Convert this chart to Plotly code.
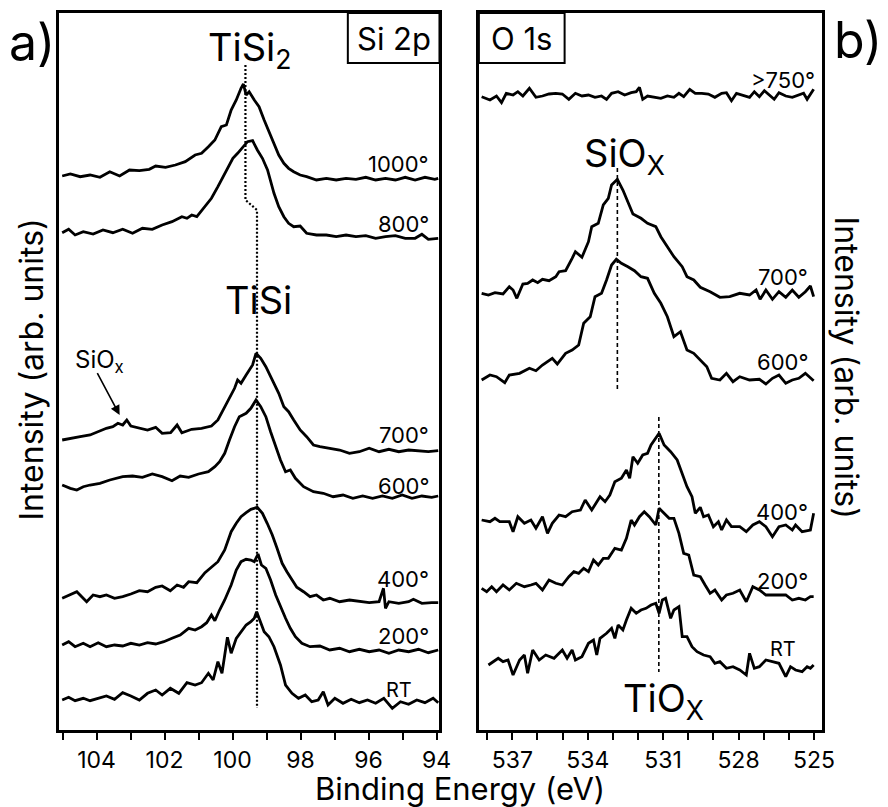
import plotly.graph_objects as go

# ---------------- Si 2p spectra (binding energy in eV, stacked intensity in arb. units) ----------------
si_1000_be = [105.01, 104.77, 104.48, 104.19, 103.90, 103.61, 103.32, 103.03, 102.74, 102.45, 102.26, 101.97,
              101.68, 101.39, 101.10, 100.91, 100.71, 100.52, 100.33, 100.18, 100.04, 99.89, 99.75, 99.68, 99.60,
              99.51, 99.36, 99.22, 99.07, 98.93, 98.78, 98.64, 98.49, 98.35, 98.20, 98.01, 97.82, 97.53, 97.24,
              96.95, 96.66, 96.37, 96.08, 95.79, 95.50, 95.21, 94.92, 94.63, 94.34, 94.05, 93.95]
si_1000 = [553.5, 555.5, 552.8, 554.5, 552.2, 557.8, 553.5, 559.5, 558.8, 560.2, 563.5, 562.2, 564.5, 567.8, 574.5,
           576.2, 582.8, 589.5, 602.8, 604.5, 619.5, 629.5, 641.2, 645.5, 634.5, 637.8, 629.5, 622.8, 609.5, 597.8,
           586.2, 574.5, 566.2, 561.2, 557.8, 554.5, 552.8, 549.5, 551.2, 549.5, 551.2, 550.2, 552.2, 549.5, 551.2,
           549.5, 552.2, 549.5, 552.2, 550.2, 551.2]

si_800_be = [105.01, 104.82, 104.63, 104.39, 104.10, 103.81, 103.52, 103.23, 102.94, 102.65, 102.36, 102.07, 101.78,
             101.49, 101.34, 101.20, 101.05, 100.81, 100.62, 100.43, 100.28, 100.14, 99.99, 99.85, 99.70, 99.56,
             99.41, 99.27, 99.12, 98.97, 98.78, 98.64, 98.49, 98.35, 98.20, 98.01, 97.82, 97.53, 97.24, 96.95,
             96.66, 96.37, 96.08, 95.79, 95.50, 95.21, 94.92, 94.63, 94.43, 94.24, 93.95]
si_800 = [496.8, 500.2, 494.5, 497.8, 495.5, 499.5, 496.8, 500.2, 496.2, 501.2, 500.2, 504.5, 507.8, 512.8, 511.2,
          514.5, 512.8, 522.8, 531.2, 542.8, 552.8, 562.8, 571.2, 576.2, 582.8, 587.8, 588.8, 579.5, 571.2, 559.5,
          536.2, 522.8, 512.8, 506.2, 502.8, 503.5, 496.2, 494.5, 494.5, 492.8, 494.5, 492.8, 493.8, 491.2, 492.8,
          493.8, 491.2, 491.2, 495.2, 490.2, 491.2]

si_700_be = [105.01, 104.77, 104.48, 104.19, 103.90, 103.71, 103.52, 103.37, 103.23, 103.11, 102.99, 102.74, 102.50,
             102.26, 102.07, 101.82, 101.63, 101.49, 101.20, 100.91, 100.62, 100.43, 100.28, 100.14, 99.94, 99.85,
             99.75, 99.60, 99.41, 99.31, 99.17, 99.02, 98.78, 98.64, 98.49, 98.35, 98.20, 98.01, 97.82, 97.62,
             97.43, 97.14, 96.85, 96.56, 96.27, 95.98, 95.69, 95.40, 95.11, 94.82, 94.53, 94.24, 93.95]
si_700 = [289.5, 291.2, 292.8, 294.5, 298.8, 301.2, 302.8, 306.2, 304.5, 309.5, 303.5, 301.2, 299.5, 302.2, 296.2,
          296.8, 304.5, 296.8, 300.2, 301.2, 303.5, 309.5, 319.5, 327.8, 341.2, 349.5, 346.2, 354.5, 364.5, 376.2,
          371.2, 362.8, 346.2, 336.2, 322.8, 317.8, 309.5, 299.5, 292.8, 284.5, 282.8, 281.2, 279.5, 276.2, 277.8,
          281.2, 277.8, 280.2, 277.8, 279.5, 278.8, 277.8, 278.8]

si_600_be = [105.01, 104.77, 104.58, 104.39, 104.19, 103.90, 103.61, 103.23, 102.94, 102.65, 102.36, 102.07, 101.78,
             101.54, 101.29, 101.00, 100.71, 100.52, 100.38, 100.23, 100.09, 99.94, 99.80, 99.60, 99.46, 99.31,
             99.17, 99.02, 98.88, 98.73, 98.59, 98.44, 98.30, 98.15, 97.91, 97.62, 97.33, 97.04, 96.75, 96.46,
             96.17, 95.88, 95.59, 95.30, 95.01, 94.72, 94.43, 94.14, 93.95]
si_600 = [244.5, 241.2, 239.5, 242.8, 244.5, 246.2, 249.5, 252.8, 253.5, 252.2, 255.5, 252.8, 248.8, 253.5, 252.2,
          255.5, 257.8, 262.8, 267.8, 276.2, 289.5, 302.8, 312.8, 316.2, 321.2, 329.5, 322.8, 312.8, 297.8, 282.8,
          269.5, 257.8, 259.5, 251.2, 242.8, 237.8, 236.2, 232.8, 234.5, 231.2, 233.5, 231.2, 233.5, 231.2, 234.5,
          231.2, 233.5, 232.2, 233.5]

si_400_be = [105.01, 104.77, 104.58, 104.29, 104.10, 103.90, 103.71, 103.47, 103.23, 102.99, 102.74, 102.50, 102.26,
             102.07, 101.83, 101.63, 101.44, 101.29, 101.05, 100.81, 100.62, 100.43, 100.23, 100.04, 99.89, 99.75,
             99.60, 99.46, 99.27, 99.12, 98.98, 98.83, 98.69, 98.54, 98.40, 98.25, 98.11, 97.91, 97.72, 97.53,
             97.33, 97.14, 96.85, 96.56, 96.27, 95.98, 95.69, 95.56, 95.50, 95.40, 95.11, 94.82, 94.68, 94.43,
             94.14, 93.95]
si_400 = [131.2, 134.5, 137.8, 127.8, 134.5, 132.8, 134.5, 131.2, 132.8, 135.5, 138.8, 137.8, 142.2, 143.5, 138.8,
          144.5, 142.2, 147.8, 146.8, 156.8, 162.8, 167.8, 179.5, 197.8, 206.2, 212.8, 216.8, 220.2, 222.2, 216.2,
          206.2, 194.5, 181.2, 166.2, 157.8, 149.5, 142.2, 137.8, 132.8, 134.5, 129.5, 131.2, 127.8, 129.5, 127.8,
          126.8, 127.8, 141.2, 121.2, 127.8, 126.2, 127.8, 130.2, 126.2, 126.8, 126.8]

si_200_be = [105.01, 104.82, 104.63, 104.39, 104.19, 103.95, 103.71, 103.47, 103.23, 102.99, 102.74, 102.50, 102.26,
             102.02, 101.78, 101.54, 101.29, 101.10, 100.91, 100.76, 100.62, 100.52, 100.38, 100.23, 100.04, 99.89,
             99.75, 99.60, 99.46, 99.36, 99.25, 99.15, 99.02, 98.88, 98.73, 98.59, 98.44, 98.30, 98.15, 97.96,
             97.72, 97.43, 97.14, 96.85, 96.56, 96.27, 95.98, 95.69, 95.40, 95.11, 94.82, 94.53, 94.24, 93.95]
si_200 = [84.5, 87.8, 82.8, 86.2, 82.8, 86.8, 82.8, 84.5, 83.5, 86.2, 84.5, 86.8, 85.5, 87.8, 91.2, 94.5, 101.2,
          99.5, 102.8, 106.8, 114.5, 108.8, 119.5, 129.5, 144.5, 159.5, 167.8, 170.2, 169.5, 167.8, 175.5, 164.5,
          161.2, 149.5, 134.5, 122.8, 111.2, 101.2, 92.8, 86.2, 82.8, 83.5, 79.5, 81.2, 77.8, 80.2, 77.8, 79.5,
          76.2, 79.5, 77.8, 80.2, 76.8, 79.5]

si_rt_be = [105.01, 104.82, 104.63, 104.39, 104.19, 103.95, 103.71, 103.47, 103.23, 102.99, 102.74, 102.50, 102.26,
            102.07, 101.83, 101.58, 101.34, 101.10, 100.91, 100.71, 100.57, 100.43, 100.31, 100.15, 100.04, 99.89,
            99.75, 99.60, 99.46, 99.36, 99.29, 99.19, 99.07, 98.93, 98.78, 98.59, 98.44, 98.25, 98.06, 97.86,
            97.67, 97.48, 97.33, 97.19, 96.99, 96.75, 96.51, 96.27, 96.03, 95.79, 95.55, 95.30, 95.06, 94.82,
            94.58, 94.34, 94.10, 93.95]
si_rt = [29.5, 32.2, 28.8, 31.2, 28.8, 31.2, 33.5, 30.2, 36.8, 33.5, 29.5, 36.2, 39.5, 34.5, 41.2, 36.2, 46.8, 44.5,
         46.8, 56.2, 49.5, 67.8, 56.2, 92.2, 76.2, 91.2, 97.8, 104.5, 107.8, 111.2, 117.8, 109.5, 97.8, 92.8, 82.8,
         64.5, 44.5, 36.2, 31.2, 34.5, 27.8, 29.5, 37.8, 24.5, 31.2, 26.2, 30.2, 26.8, 29.5, 26.2, 31.2, 21.2, 27.8,
         25.2, 29.5, 26.8, 31.2, 26.8]

# ---------------- O 1s spectra ----------------
o_750_be = [538.22, 537.89, 537.63, 537.43, 537.24, 536.97, 536.78, 536.58, 536.32, 536.06, 535.80, 535.54, 535.27,
            535.01, 534.75, 534.49, 534.23, 533.97, 533.71, 533.45, 533.25, 533.05, 532.79, 532.53, 532.27, 532.07,
            531.94, 531.81, 531.62, 531.35, 531.09, 530.83, 530.57, 530.37, 530.18, 529.94, 529.72, 529.46, 529.20,
            528.94, 528.67, 528.48, 528.28, 528.08, 527.82, 527.56, 527.37, 527.17, 526.97, 526.78, 526.58, 526.39,
            526.12, 525.86, 525.60, 525.41, 525.27, 525.01]
o_750 = [632.8, 629.5, 633.5, 626.8, 636.2, 634.5, 637.8, 633.5, 641.2, 632.2, 633.5, 635.5, 636.2, 635.5, 630.2,
         636.2, 633.5, 634.5, 632.2, 633.5, 630.2, 636.2, 637.8, 634.5, 636.8, 637.8, 642.2, 630.2, 633.5, 632.2,
         631.2, 633.5, 632.2, 636.2, 632.8, 640.2, 636.2, 636.2, 635.5, 632.2, 636.2, 636.8, 628.8, 636.2, 634.5,
         632.2, 637.8, 632.8, 638.8, 634.5, 630.2, 636.8, 633.5, 632.2, 634.5, 636.2, 630.2, 640.2]

o_700_be = [538.22, 537.95, 537.69, 537.37, 537.12, 536.97, 536.82, 536.58, 536.39, 536.19, 535.99, 535.80, 535.54,
            535.27, 535.14, 534.88, 534.62, 534.49, 534.23, 533.97, 533.84, 533.58, 533.38, 533.18, 533.05, 532.82,
            532.60, 532.40, 532.20, 531.88, 531.62, 531.29, 531.09, 530.83, 530.57, 530.24, 530.05, 529.78, 529.52,
            529.13, 528.74, 528.35, 527.95, 527.56, 527.30, 527.14, 526.91, 526.65, 526.39, 526.12, 525.86, 525.60,
            525.34, 525.14, 525.01]
o_700 = [436.2, 434.5, 436.8, 435.5, 442.8, 439.5, 431.2, 445.5, 446.2, 449.5, 446.8, 450.2, 448.8, 452.8, 457.8,
         458.8, 471.2, 477.8, 472.2, 487.8, 502.8, 506.2, 524.5, 531.2, 544.5, 550.2, 539.5, 527.8, 515.5, 511.2,
         506.2, 502.8, 492.8, 482.8, 472.8, 462.8, 452.8, 449.5, 442.2, 437.8, 432.2, 432.8, 436.2, 434.5, 439.5,
         430.2, 439.5, 430.2, 437.8, 432.2, 439.5, 432.2, 437.8, 443.5, 432.8]

o_600_be = [538.22, 537.89, 537.63, 537.30, 537.12, 536.71, 536.32, 536.06, 535.80, 535.41, 535.21, 534.88, 534.62,
            534.36, 534.16, 533.90, 533.71, 533.45, 533.25, 533.05, 532.86, 532.66, 532.40, 532.14, 531.88, 531.62,
            531.35, 531.09, 530.83, 530.57, 530.31, 530.05, 529.78, 529.52, 529.26, 529.07, 528.74, 528.48, 528.22,
            527.95, 527.56, 527.17, 526.91, 526.65, 526.39, 526.12, 525.86, 525.60, 525.34, 525.01]
o_600 = [349.5, 354.5, 352.8, 346.8, 354.5, 356.2, 361.2, 358.8, 364.5, 371.2, 365.5, 376.2, 379.5, 384.5, 406.2,
         412.8, 432.8, 436.2, 449.5, 464.5, 470.2, 466.2, 462.8, 458.8, 452.8, 451.2, 436.2, 426.2, 412.8, 392.8,
         397.8, 379.5, 376.2, 369.5, 362.8, 351.2, 349.5, 356.2, 347.8, 352.8, 349.5, 350.2, 345.5, 351.2, 354.5,
         346.2, 349.5, 351.2, 356.2, 348.8]

o_400_be = [538.22, 537.89, 537.69, 537.50, 537.12, 536.97, 536.78, 536.52, 536.26, 536.06, 535.80, 535.60, 535.41,
            535.14, 534.88, 534.62, 534.29, 534.10, 533.84, 533.51, 533.31, 533.12, 532.92, 532.66, 532.46, 532.33,
            532.20, 532.01, 531.81, 531.62, 531.48, 531.29, 531.16, 530.96, 530.70, 530.44, 530.24, 530.05, 529.85,
            529.72, 529.52, 529.39, 529.20, 529.00, 528.80, 528.67, 528.48, 528.28, 527.95, 527.69, 527.43, 527.17,
            526.91, 526.65, 526.39, 526.12, 525.86, 525.73, 525.47, 525.14, 525.01]
o_400 = [209.5, 207.8, 211.2, 207.8, 207.8, 197.8, 212.8, 206.2, 209.5, 201.2, 212.8, 196.2, 206.2, 214.5, 212.8,
         217.8, 219.5, 229.5, 219.5, 232.8, 227.8, 234.5, 247.8, 251.2, 259.5, 251.2, 272.8, 266.2, 274.5, 276.2,
         284.5, 291.2, 296.2, 284.5, 277.8, 269.5, 256.2, 242.8, 232.8, 216.2, 222.2, 212.8, 214.5, 202.8, 207.8,
         199.5, 209.5, 202.8, 202.8, 197.8, 204.5, 207.8, 202.8, 192.8, 202.8, 204.5, 199.5, 204.5, 197.8, 199.5,
         216.2]

o_200_be = [538.22, 538.02, 537.82, 537.63, 537.37, 537.12, 536.84, 536.52, 536.26, 536.06, 535.80, 535.54, 535.27,
            535.01, 534.75, 534.55, 534.36, 534.16, 533.97, 533.77, 533.58, 533.38, 533.18, 532.92, 532.66, 532.46,
            532.27, 532.14, 531.94, 531.75, 531.55, 531.29, 531.16, 530.96, 530.76, 530.57, 530.37, 530.18, 529.98,
            529.78, 529.52, 529.33, 529.13, 528.94, 528.67, 528.48, 528.22, 527.95, 527.69, 527.43, 527.17, 526.91,
            526.65, 526.39, 526.12, 525.86, 525.60, 525.34, 525.14, 525.01]
o_200 = [141.2, 137.8, 142.8, 137.8, 144.5, 139.5, 146.2, 142.8, 144.5, 146.2, 139.5, 149.5, 146.2, 144.5, 152.8,
         157.8, 156.2, 161.2, 157.8, 169.5, 164.5, 171.2, 171.2, 181.2, 179.5, 191.2, 209.5, 204.5, 212.8, 217.8,
         212.8, 204.5, 221.2, 216.2, 211.2, 211.2, 196.2, 176.2, 174.5, 154.5, 152.8, 144.5, 136.2, 139.5, 129.5,
         134.5, 136.2, 139.5, 127.8, 142.8, 139.5, 134.5, 134.5, 134.5, 134.5, 129.5, 131.2, 129.5, 132.8, 132.8]

o_rt_be = [537.95, 537.76, 537.56, 537.37, 537.17, 536.97, 536.71, 536.52, 536.39, 536.19, 535.93, 535.67, 535.34,
           535.01, 534.82, 534.62, 534.49, 534.23, 533.97, 533.77, 533.64, 533.51, 533.25, 533.05, 532.92, 532.79,
           532.60, 532.46, 532.27, 532.07, 531.88, 531.68, 531.48, 531.29, 531.16, 531.03, 530.90, 530.70, 530.57,
           530.37, 530.24, 530.05, 529.85, 529.65, 529.39, 529.13, 528.94, 528.74, 528.48, 528.22, 527.95, 527.69,
           527.56, 527.37, 527.17, 526.91, 526.65, 526.39, 526.12, 525.93, 525.73, 525.47, 525.27, 525.14, 525.01]
o_rt = [64.5, 67.8, 71.2, 67.8, 69.5, 54.5, 69.5, 74.5, 56.2, 79.5, 69.5, 74.5, 71.2, 79.5, 71.2, 79.5, 69.5, 72.8,
        86.2, 89.5, 74.5, 91.2, 96.2, 101.2, 91.2, 104.5, 99.5, 109.5, 121.2, 116.2, 119.5, 121.2, 124.5, 126.2,
        116.2, 129.5, 131.2, 111.2, 119.5, 122.8, 92.8, 92.8, 82.8, 77.8, 74.5, 72.8, 66.2, 67.8, 61.2, 62.8, 59.5,
        54.5, 76.2, 61.2, 62.8, 69.5, 67.8, 66.2, 52.8, 62.8, 59.5, 57.8, 62.8, 61.2, 64.5]

# temperature labels: (text, binding energy of right edge, height)
si_labels = [("1000°", 94.17, 565.5), ("800°", 94.17, 505.5), ("700°", 94.17, 294.5), ("600°", 94.17, 243.5),
             ("400°", 94.17, 150.5), ("200°", 94.17, 93.5), ("RT", 94.67, 39.5)]
o_labels = [(">750°", 524.88, 649.5), ("700°", 525.16, 452.5), ("600°", 525.16, 367.5), ("400°", 525.16, 217.5),
            ("200°", 525.16, 148.5), ("RT", 525.64, 80.5)]

# peak-position guide lines (binding energy, height) pairs
tisi2_guide_be = [99.62, 99.62, 99.28, 99.28]
tisi2_guide_y = [664.5, 529.5, 519.5, 21.5]
siox_guide_be = [532.82, 532.82]
siox_guide_y = [561.5, 340.5]
tiox_guide_be = [531.17, 531.17]
tiox_guide_y = [312.5, 57.5]

FONT = "Inter"
Y_TOP = 716.5
W, H = 888, 807

fig = go.Figure()

si_series = [(si_1000_be, si_1000), (si_800_be, si_800), (si_700_be, si_700), (si_600_be, si_600),
             (si_400_be, si_400), (si_200_be, si_200), (si_rt_be, si_rt)]
o_series = [(o_750_be, o_750), (o_700_be, o_700), (o_600_be, o_600), (o_400_be, o_400),
            (o_200_be, o_200), (o_rt_be, o_rt)]

for be, inten in si_series:
    fig.add_trace(go.Scatter(x=be, y=inten, mode="lines", xaxis="x", yaxis="y",
                             line=dict(color="black", width=2.8), showlegend=False))
for be, inten in o_series:
    fig.add_trace(go.Scatter(x=be, y=inten, mode="lines", xaxis="x2", yaxis="y2",
                             line=dict(color="black", width=2.8), showlegend=False))

fig.add_trace(go.Scatter(x=tisi2_guide_be, y=tisi2_guide_y, mode="lines", xaxis="x", yaxis="y",
                         line=dict(color="black", width=2.2, dash="2px,2px"), showlegend=False))
fig.add_trace(go.Scatter(x=siox_guide_be, y=siox_guide_y, mode="lines", xaxis="x2", yaxis="y2",
                         line=dict(color="black", width=1.6, dash="4px,3px"), showlegend=False))
fig.add_trace(go.Scatter(x=tiox_guide_be, y=tiox_guide_y, mode="lines", xaxis="x2", yaxis="y2",
                         line=dict(color="black", width=1.6, dash="4px,3px"), showlegend=False))

axis_common = dict(showline=True, linecolor="black", linewidth=2.5, mirror=True, showgrid=False,
                   zeroline=False)
xaxis_common = dict(axis_common, ticks="outside", ticklen=8, tickwidth=2, tickcolor="black",
                    ticklabelstandoff=0, tickfont=dict(family=FONT, size=23, color="black"))

fig.update_layout(
    width=W, height=H, autosize=False,
    margin=dict(l=0, r=0, t=0, b=0),
    paper_bgcolor="white", plot_bgcolor="white",
    font=dict(family=FONT, color="black"),
    xaxis=dict(xaxis_common, domain=[60 / W, 446 / W], range=[105.10, 93.913], anchor="y",
               tick0=94, dtick=2, minor=dict(dtick=1, tick0=94, ticks="outside", ticklen=8, tickwidth=2,
                                             tickcolor="black")),
    yaxis=dict(axis_common, domain=[77.5 / H, 794 / H], range=[0, Y_TOP], anchor="x",
               showticklabels=False, ticks=""),
    xaxis2=dict(xaxis_common, domain=[486 / W, 834 / W], range=[538.33, 524.686], anchor="y2",
                tick0=525, dtick=3, minor=dict(dtick=1, tick0=525, ticks="outside", ticklen=8, tickwidth=2,
                                               tickcolor="black")),
    yaxis2=dict(axis_common, domain=[77.5 / H, 794 / H], range=[0, Y_TOP], anchor="x2",
                showticklabels=False, ticks=""),
)


def label(x, y, text, size, xref, yref, xanchor="center", **kw):
    return dict(x=x, y=y, xref=xref, yref=yref, text=text, showarrow=False, xanchor=xanchor,
                yanchor="middle", font=dict(family=FONT, size=size, color="black"), **kw)


ann = []
for text, be, h in si_labels:
    ann.append(label(be, h, text, 22 if text != "RT" else 20, "x", "y", xanchor="right"))
for text, be, h in o_labels:
    ann.append(label(be, h, text, 22 if text != "RT" else 20, "x2", "y2", xanchor="right"))

# peak assignments
ann += [
    label(99.48, 680, "TiSi<sub>2</sub>", 38, "x", "y"),
    label(99.23, 429.5, "TiSi", 38, "x", "y"),
    label(532.53, 574, "SiO<sub>X</sub>", 38, "x2", "y2"),
    label(530.97, 29, "TiO<sub>X</sub>", 38, "x2", "y2"),
    label(103.92, 369, "SiO<sub>x</sub>", 24, "x", "y"),
    dict(x=103.32, y=314.5, ax=104.0, ay=357.8, xref="x", yref="y", axref="x", ayref="y", text="",
         showarrow=True, arrowhead=2, arrowsize=1.2, arrowwidth=1.6, arrowcolor="black"),
]

# core-level boxes
fig.add_shape(type="rect", xref="paper", yref="paper", x0=353 / W, x1=446 / W, y0=1 - 63 / H,
              y1=1 - 13 / H, line=dict(color="black", width=2))
fig.add_shape(type="rect", xref="paper", yref="paper", x0=486 / W, x1=573 / W, y0=1 - 63 / H,
              y1=1 - 13 / H, line=dict(color="black", width=2))
ann += [
    label(399.5 / W, 1 - 38 / H, "Si 2p", 31, "paper", "paper"),
    label(529.5 / W, 1 - 38 / H, "O 1s", 31, "paper", "paper"),
    label(32 / W, 1 - 42 / H, "a)", 50, "paper", "paper"),
    label(866 / W, 1 - 40 / H, "b)", 50, "paper", "paper", xshift=5),
    label(31 / W, 1 - 370 / H, "Intensity (arb. units)", 32, "paper", "paper", textangle=-90),
    label(860 / W, 1 - 368 / H, "Intensity (arb. units)", 32, "paper", "paper", textangle=90),
    label(467 / W, 1 - 788 / H, "Binding Energy (eV)", 31, "paper", "paper"),
]
fig.update_layout(annotations=ann)

fig.write_html("out.html")
